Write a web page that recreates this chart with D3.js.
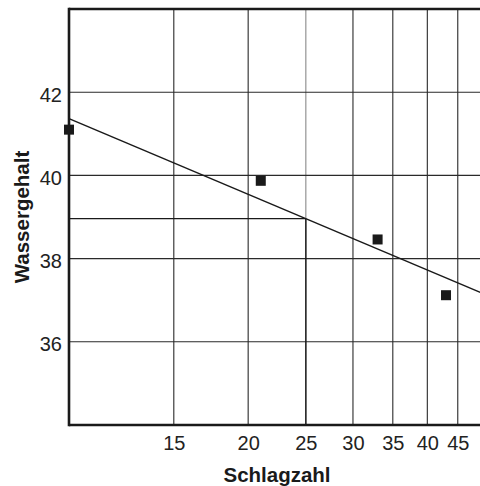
<!DOCTYPE html>
<html>
<head>
<meta charset="utf-8">
<script src="https://cdn.jsdelivr.net/npm/d3@7"></script>
<style>
  body { margin: 0; background: #fff; }
  svg { display: block; font-family: "Liberation Sans", Arial, sans-serif; }
  .tick text { fill: #222; }
</style>
</head>
<body>
<div id="chart"></div>
<script>
// Messpunkte
const schlagzahl = [10, 21, 33, 43];
const wassergehalt = [41.1, 39.87, 38.46, 37.12];

const xTicks = [15, 20, 25, 30, 35, 40, 45];
const yTicks = [36, 38, 40, 42];
const xDomain = [10, 50];
const yDomain = [34, 44];
const readAt = 25;

const width = 480, height = 486;
const margin = {top: 9, right: -5, bottom: 61, left: 69};
const innerW = width - margin.left - margin.right;
const innerH = height - margin.top - margin.bottom;

const svg = d3.select("#chart").append("svg")
    .attr("width", width)
    .attr("height", height);

const g = svg.append("g")
    .attr("transform", "translate(" + margin.left + "," + margin.top + ")");

const x = d3.scaleLog().domain(xDomain).range([0, innerW]);
const y = d3.scaleLinear().domain(yDomain).range([innerH, 0]);

// Ausgleichsgerade: y = a + b * ln(x)
const lx = schlagzahl.map(Math.log);
const mx = d3.mean(lx), my = d3.mean(wassergehalt);
const b = d3.sum(lx, (d, i) => (d - mx) * (wassergehalt[i] - my)) / d3.sum(lx, d => (d - mx) * (d - mx));
const a = my - b * mx;
const fit = (v) => a + b * Math.log(v);

// gridlines
g.selectAll(".vgrid")
    .data(xTicks)
    .enter().append("line")
    .attr("x1", d => x(d)).attr("x2", d => x(d))
    .attr("y1", 0).attr("y2", innerH)
    .attr("stroke", d => d === readAt ? "#8a8a8a" : "#2a2a2a")
    .attr("stroke-width", 1.1);

g.selectAll(".hgrid")
    .data(yTicks)
    .enter().append("line")
    .attr("x1", 0).attr("x2", innerW)
    .attr("y1", d => y(d)).attr("y2", d => y(d))
    .attr("stroke", "#2a2a2a")
    .attr("stroke-width", 1.1);

// Ablesehilfe bei x = 25
g.append("line")
    .attr("x1", 0).attr("x2", x(readAt))
    .attr("y1", y(fit(readAt))).attr("y2", y(fit(readAt)))
    .attr("stroke", "#1a1a1a").attr("stroke-width", 1.2);
g.append("line")
    .attr("x1", x(readAt)).attr("x2", x(readAt))
    .attr("y1", y(fit(readAt))).attr("y2", innerH)
    .attr("stroke", "#1a1a1a").attr("stroke-width", 1.4);

// trend line
g.append("path")
    .datum(xDomain)
    .attr("d", d3.line().x(d => x(d)).y(d => y(fit(d))))
    .attr("fill", "none")
    .attr("stroke", "#1a1a1a")
    .attr("stroke-width", 1.5);

// frame
g.append("line").attr("x1", 0).attr("x2", innerW).attr("y1", 0).attr("y2", 0)
    .attr("stroke", "#1a1a1a").attr("stroke-width", 2.6);
g.append("line").attr("x1", 0).attr("x2", innerW).attr("y1", innerH).attr("y2", innerH)
    .attr("stroke", "#1a1a1a").attr("stroke-width", 2.6);
g.append("line").attr("x1", 0).attr("x2", 0).attr("y1", -1.3).attr("y2", innerH + 1.3)
    .attr("stroke", "#1a1a1a").attr("stroke-width", 2.6);

// points
const pts = schlagzahl.map((d, i) => ({x: d, y: wassergehalt[i]}));
g.selectAll(".pt")
    .data(pts)
    .enter().append("rect")
    .attr("class", "pt")
    .attr("x", d => x(d.x) - 5)
    .attr("y", d => y(d.y) - 5)
    .attr("width", 10)
    .attr("height", 10)
    .attr("fill", "#1a1a1a");

// axes (labels only)
const xAxis = g.append("g")
    .attr("transform", "translate(0," + innerH + ")")
    .call(d3.axisBottom(x).tickValues(xTicks).tickFormat(d3.format("d")).tickSize(0).tickPadding(11));
xAxis.select(".domain").remove();
xAxis.selectAll("text").attr("font-size", 20);

const yAxis = g.append("g")
    .call(d3.axisLeft(y).tickValues(yTicks).tickSize(0).tickPadding(7));
yAxis.select(".domain").remove();
yAxis.selectAll("text").attr("font-size", 20).attr("dy", "0.45em");

// titles
svg.append("text")
    .attr("x", margin.left + innerW / 2)
    .attr("y", 482)
    .attr("text-anchor", "middle")
    .attr("font-size", 20.5)
    .attr("font-weight", "bold")
    .attr("fill", "#1a1a1a")
    .text("Schlagzahl");

svg.append("text")
    .attr("transform", "translate(29," + (margin.top + innerH / 2) + ") rotate(-90)")
    .attr("text-anchor", "middle")
    .attr("font-size", 20.5)
    .attr("font-weight", "bold")
    .attr("fill", "#1a1a1a")
    .text("Wassergehalt");
</script>
</body>
</html>
